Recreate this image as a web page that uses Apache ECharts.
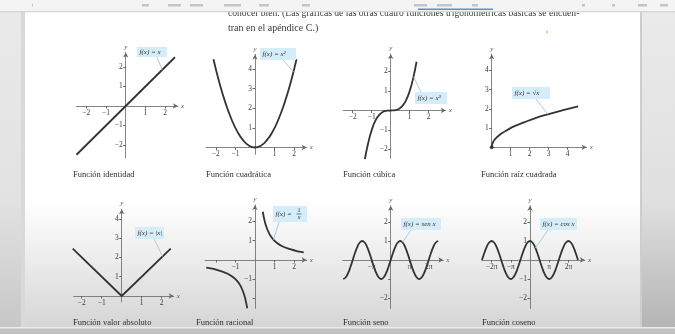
<!DOCTYPE html>
<html>
<head>
<meta charset="utf-8">
<script src="https://cdn.jsdelivr.net/npm/echarts@6/dist/echarts.min.js"></script>
<style>
  html, body { margin: 0; padding: 0; background: #fff; }
  #main { width: 675px; height: 334px; }
</style>
</head>
<body>
<div id="main"></div>
<script>
// ---- datos ----
const identX = [-2.5, 2.5];
const identY = [-2.5, 2.5];

const quadX = [-2.12, -1.8, -1.5, -1.2, -0.9, -0.6, -0.3, 0, 0.3, 0.6, 0.9, 1.2, 1.5, 1.8, 2.12];
const quadY = [4.5, 3.24, 2.25, 1.44, 0.81, 0.36, 0.09, 0, 0.09, 0.36, 0.81, 1.44, 2.25, 3.24, 4.5];

const cubicX = [-1.36, -1.2, -1, -0.8, -0.6, -0.4, -0.2, 0, 0.2, 0.4, 0.6, 0.8, 1, 1.2, 1.36];
const cubicY = [-2.5, -1.73, -1, -0.51, -0.22, -0.06, -0.01, 0, 0.01, 0.06, 0.22, 0.51, 1, 1.73, 2.5];

const sqrtX = [0, 0.03, 0.1, 0.2, 0.35, 0.55, 0.8, 1.2, 1.7, 2.3, 3, 3.7, 4.55];
const sqrtY = [0, 0.17, 0.32, 0.45, 0.59, 0.74, 0.89, 1.1, 1.3, 1.52, 1.73, 1.92, 2.13];

const absX = [-2.45, 0, 2.45];
const absY = [2.45, 0, 2.45];

const ratPosX = [0.4, 0.5, 0.6, 0.75, 0.9, 1.1, 1.4, 1.8, 2.2, 2.5];
const ratPosY = [2.5, 2, 1.67, 1.33, 1.11, 0.91, 0.71, 0.56, 0.45, 0.4];
const ratNegX = [-2.5, -2.2, -1.8, -1.4, -1.1, -0.9, -0.75, -0.6, -0.5, -0.4];
const ratNegY = [-0.4, -0.45, -0.56, -0.71, -0.91, -1.11, -1.33, -1.67, -2, -2.5];

// x en unidades de pi
const trigX = [-2.5, -2.375, -2.25, -2.125, -2, -1.875, -1.75, -1.625, -1.5, -1.375, -1.25, -1.125, -1,
  -0.875, -0.75, -0.625, -0.5, -0.375, -0.25, -0.125, 0, 0.125, 0.25, 0.375, 0.5, 0.625, 0.75, 0.875, 1,
  1.125, 1.25, 1.375, 1.5, 1.625, 1.75, 1.875, 2, 2.125, 2.25, 2.375, 2.5];
const sinY = [-1, -0.92, -0.71, -0.38, 0, 0.38, 0.71, 0.92, 1, 0.92, 0.71, 0.38, 0,
  -0.38, -0.71, -0.92, -1, -0.92, -0.71, -0.38, 0, 0.38, 0.71, 0.92, 1, 0.92, 0.71, 0.38, 0,
  -0.38, -0.71, -0.92, -1, -0.92, -0.71, -0.38, 0, 0.38, 0.71, 0.92, 1];
const cosY = [0, 0.38, 0.71, 0.92, 1, 0.92, 0.71, 0.38, 0, -0.38, -0.71, -0.92, -1,
  -0.92, -0.71, -0.38, 0, 0.38, 0.71, 0.92, 1, 0.92, 0.71, 0.38, 0, -0.38, -0.71, -0.92, -1,
  -0.92, -0.71, -0.38, 0, 0.38, 0.71, 0.92, 1, 0.92, 0.71, 0.38, 0];

// marcas y etiquetas de los ejes
const ticks4 = [-2, -1, 1, 2];
const pos4 = [1, 2, 3, 4];
const identXLabels = ['−2', '−1', '1', '2'];
const identYLabels = ['−2', '−1', '1', '2'];
const quadXLabels = ['−2', '−1', '1', '2'];
const quadYLabels = ['1', '2', '3', '4'];
const cubicXLabels = ['−2', '−1', '1', '2'];
const cubicYLabels = ['−2', '−1', '1', '2'];
const sqrtXLabels = ['1', '2', '3', '4'];
const sqrtYLabels = ['1', '2', '3', '4'];
const absXLabels = ['−2', '−1', '1', '2'];
const absYLabels = ['1', '2', '3', '4'];
const ratXLabels = ['', '−1', '1', '2'];
const ratYLabels = ['', '−1', '1', '2'];
const sinXLabels = ['', '−π', 'π', '2π'];
const sinYLabels = ['−2', '', '1', '2'];
const cosXLabels = ['−2π', '−π', 'π', '2π'];
const cosYLabels = ['−2', '−1', '1', '2'];

const captions = ['Función identidad', 'Función cuadrática', 'Función cúbica', 'Función raíz cuadrada',
  'Función valor absoluto', 'Función racional', 'Función seno', 'Función coseno'];

// ---- maquetacion (origen en px, px por unidad, rangos) ----
const plots = [
  { ox: 125.7, oy: 106, ux: 19.7, uy: 19.5, xr: [-2.5, 2.65], yr: [-2.65, 2.75], xt: ticks4, xl: identXLabels, yt: ticks4, yl: identYLabels },
  { ox: 255, oy: 147.5, ux: 19.6, uy: 19.6, xr: [-2.5, 2.64], yr: [-0.35, 4.75], xt: ticks4, xl: quadXLabels, yt: pos4, yl: quadYLabels },
  { ox: 390.7, oy: 110.5, ux: 19, uy: 19.5, xr: [-2.5, 2.9], yr: [-2.45, 2.9], xt: ticks4, xl: cubicXLabels, yt: ticks4, yl: cubicYLabels },
  { ox: 491.7, oy: 147.3, ux: 19, uy: 19.2, xr: [0, 5], yr: [0, 4.85], xt: pos4, xl: sqrtXLabels, yt: pos4, yl: sqrtYLabels },
  { ox: 121.7, oy: 296, ux: 20, uy: 19.3, xr: [-2.4, 2.6], yr: [-0.3, 4.5], xt: ticks4, xl: absXLabels, yt: pos4, yl: absYLabels },
  { ox: 255, oy: 260, ux: 19.5, uy: 19.3, xr: [-2.56, 2.65], yr: [-2.5, 2.85], xt: ticks4, xl: ratXLabels, yt: ticks4, yl: ratYLabels },
  { ox: 390.7, oy: 260, ux: 19, uy: 19, xr: [-2.53, 2.77], yr: [-2.55, 2.85], xt: ticks4, xl: sinXLabels, yt: ticks4, yl: sinYLabels },
  { ox: 530, oy: 260, ux: 19.2, uy: 19, xr: [-2.52, 2.86], yr: [-2.55, 2.85], xt: ticks4, xl: cosXLabels, yt: ticks4, yl: cosYLabels }
];
const captionPos = [[73, 175], [206, 175], [343, 175], [481, 175], [73, 323], [196, 323], [343, 323], [482, 323]];

const serif = '"Liberation Serif", "DejaVu Serif", serif';
const axisColor = '#666';

function zip(xs, ys) {
  return xs.map((x, i) => [x, ys[i]]);
}

const grids = [], xAxes = [], yAxes = [];
plots.forEach((p, i) => {
  grids.push({
    left: p.ox + p.xr[0] * p.ux,
    top: p.oy - p.yr[1] * p.uy,
    width: (p.xr[1] - p.xr[0]) * p.ux,
    height: (p.yr[1] - p.yr[0]) * p.uy
  });
  const common = {
    type: 'value',
    gridIndex: i,
    splitLine: { show: false },
    axisLine: { onZero: false, symbol: ['none', 'arrow'], symbolSize: [4, 5], lineStyle: { color: axisColor, width: 0.8 } },
    nameTextStyle: { fontFamily: serif, fontStyle: 'italic', fontSize: 7, color: '#555' }
  };
  // el eje se mete dentro de la rejilla hasta el cero del otro eje
  xAxes.push(Object.assign({}, common, {
    min: p.xr[0], max: p.xr[1], name: 'x', nameGap: 3,
    position: 'bottom', offset: p.yr[0] * p.uy,
    axisTick: { customValues: p.xt, length: 2.5, lineStyle: { color: axisColor } },
    axisLabel: {
      customValues: p.xt, margin: 3, fontSize: 7.5, color: '#3a3a3a', fontFamily: serif,
      formatter: (v) => p.xl[p.xt.indexOf(v)] || ''
    }
  }));
  yAxes.push(Object.assign({}, common, {
    min: p.yr[0], max: p.yr[1], name: 'y', nameGap: 2,
    position: 'left', offset: p.xr[0] * p.ux,
    axisTick: { customValues: p.yt, length: 2.5, lineStyle: { color: axisColor } },
    axisLabel: {
      customValues: p.yt, margin: 3, fontSize: 7.5, color: '#3a3a3a', fontFamily: serif,
      formatter: (v) => p.yl[p.yt.indexOf(v)] || ''
    }
  }));
});

function curve(i, data, smooth) {
  return {
    type: 'line', xAxisIndex: i, yAxisIndex: i, data: data,
    showSymbol: false, smooth: smooth, silent: true,
    lineStyle: { color: '#333', width: 1.8 }
  };
}

const series = [
  curve(0, zip(identX, identY), false),
  curve(1, zip(quadX, quadY), 0.5),
  curve(2, zip(cubicX, cubicY), 0.5),
  curve(3, zip(sqrtX, sqrtY), 0.5),
  {
    type: 'scatter', xAxisIndex: 3, yAxisIndex: 3, data: [[sqrtX[0], sqrtY[0]]],
    symbolSize: 4, itemStyle: { color: '#222' }, silent: true
  },
  curve(4, zip(absX, absY), false),
  curve(5, zip(ratPosX, ratPosY), 0.5),
  curve(5, zip(ratNegX, ratNegY), 0.5),
  curve(6, zip(trigX, sinY), 0.5),
  curve(7, zip(trigX, cosY), 0.5)
];

const chart = echarts.init(document.getElementById('main'), null, { renderer: 'canvas' });
chart.setOption({
  animation: false,
  backgroundColor: '#fff',
  grid: grids, xAxis: xAxes, yAxis: yAxes, series: series
});

// ---- fondo, textos y globos ----
const g = [];
g.push({ type: 'rect', z: -10, shape: { x: 0, y: 0, width: 675, height: 334 },
  style: { fill: new echarts.graphic.LinearGradient(0, 0, 0, 1, [
    { offset: 0, color: '#ffffff' }, { offset: 0.6, color: '#ffffff' },
    { offset: 0.78, color: '#ececec' }, { offset: 1, color: '#d3d3d3' }]) } });
g.push({ type: 'rect', z: 50, shape: { x: 0, y: 0, width: 21, height: 334 },
  style: { fill: new echarts.graphic.LinearGradient(0, 0, 0, 1, [
    { offset: 0, color: '#eaeaea' }, { offset: 0.6, color: '#e2e2e2' }, { offset: 1, color: '#c6c6c6' }]) } });
g.push({ type: 'rect', z: 50, shape: { x: 21, y: 0, width: 4, height: 334 }, style: { fill: '#d9d9d9' } });
g.push({ type: 'rect', z: 50, shape: { x: 641, y: 0, width: 34, height: 334 },
  style: { fill: new echarts.graphic.LinearGradient(0, 0, 0, 1, [
    { offset: 0, color: '#ebebeb' }, { offset: 0.6, color: '#e0e0e0' }, { offset: 1, color: '#b2b2b2' }]) } });
g.push({ type: 'rect', z: 51, shape: { x: 640, y: 0, width: 2, height: 334 }, style: { fill: '#cdcdcd' } });
g.push({ type: 'rect', z: 52, shape: { x: 0, y: 327, width: 675, height: 7 }, style: { fill: '#c2c2c2' } });
g.push({ type: 'rect', z: 53, shape: { x: 0, y: 327, width: 675, height: 1.5 }, style: { fill: '#ebebeb' } });

// texto del libro arriba
g.push({ type: 'text', z: 5, x: 228, y: 13.5, style: { text: 'conocer bien. (Las gráficas de las otras cuatro funciones trigonométricas básicas se encuen-',
  fontFamily: serif, fontSize: 9.6, fill: '#3a3a3a', verticalAlign: 'middle' } });
g.push({ type: 'text', z: 5, x: 228, y: 28, style: { text: 'tran en el apéndice C.)',
  fontFamily: serif, fontSize: 10, fill: '#3a3a3a', verticalAlign: 'middle' } });
g.push({ type: 'circle', z: 5, shape: { cx: 547, cy: 32, r: 0.9 }, style: { fill: '#e0a060' } });

// barra superior del visor
g.push({ type: 'rect', z: 60, shape: { x: 0, y: 0, width: 675, height: 11 }, style: { fill: '#f4f4f4' } });
g.push({ type: 'rect', z: 61, shape: { x: 0, y: 11, width: 675, height: 1.2 }, style: { fill: '#d4d4d4' } });
g.push({ type: 'rect', z: 62, shape: { x: 418, y: 8.5, width: 75, height: 1.6 }, style: { fill: '#5b8fd0' } });
[[32, 1], [142, 7], [168, 13], [190, 13], [224, 17], [259, 10], [302, 8], [414, 13], [437, 15], [472, 6], [582, 3], [612, 3], [638, 9], [660, 8]]
  .forEach(([x, w]) => {
    g.push({ type: 'rect', z: 62, shape: { x: x, y: 4, width: w, height: 2.5 }, style: { fill: '#a5a5a5', opacity: 0.6 } });
  });

captions.forEach((c, i) => {
  g.push({ type: 'text', z: 5, x: captionPos[i][0], y: captionPos[i][1],
    style: { text: c, fontFamily: serif, fontSize: 8.5, fill: '#2e2e2e', verticalAlign: 'middle' } });
});

// globos: caja en px, punta sobre la curva en coordenadas de datos
const callouts = [
  { i: 0, text: 'f(x) = x', box: [137, 47, 30, 10], from: [157, 57], to: [1.85, 1.85] },
  { i: 1, text: 'f(x) = x²', box: [260, 48, 36, 12], from: [283, 60], to: [1.97, 3.85] },
  { i: 2, text: 'f(x) = x³', box: [415, 92, 32, 12], from: [421, 92], to: [1.2, 1.73] },
  { i: 3, text: 'f(x) = √x', box: [512, 87, 38, 12], from: [536, 99], to: [2.95, 1.72] },
  { i: 4, text: 'f(x) = |x|', box: [135, 227, 29, 12], from: [154, 239], to: [2.05, 2.05] },
  { i: 5, text: 'f(x) =', frac: true, box: [273, 206, 34, 16], from: [279, 222], to: [0.95, 1.05] },
  { i: 6, text: 'f(x) = sen x', box: [401, 218, 40, 12], from: [411, 230], to: [0.62, 0.93] },
  { i: 7, text: 'f(x) = cos x', box: [540, 218, 37, 12], from: [548, 230], to: [0.28, 0.63] }
];
const boxFill = '#d5ecf9';
callouts.forEach((c) => {
  const tip = chart.convertToPixel({ gridIndex: c.i }, c.to);
  g.push({ type: 'line', z: 20, shape: { x1: c.from[0], y1: c.from[1], x2: tip[0], y2: tip[1] },
    style: { stroke: '#9fc6de', lineWidth: 0.9 } });
  g.push({ type: 'rect', z: 21, shape: { x: c.box[0], y: c.box[1], width: c.box[2], height: c.box[3] },
    style: { fill: boxFill } });
  const cy = c.box[1] + c.box[3] / 2;
  g.push({ type: 'text', z: 22, x: c.box[0] + 2.5, y: cy,
    style: { text: c.text, fontFamily: serif, fontStyle: 'italic', fontSize: 7, fill: '#333', verticalAlign: 'middle' } });
  if (c.frac) {
    const fx = c.box[0] + 26;
    g.push({ type: 'text', z: 22, x: fx, y: cy - 3.5, style: { text: '1', fontFamily: serif, fontSize: 6, fill: '#333', align: 'center', verticalAlign: 'middle' } });
    g.push({ type: 'line', z: 22, shape: { x1: fx - 2.5, y1: cy, x2: fx + 2.5, y2: cy }, style: { stroke: '#333', lineWidth: 0.6 } });
    g.push({ type: 'text', z: 22, x: fx, y: cy + 3.8, style: { text: 'x', fontFamily: serif, fontStyle: 'italic', fontSize: 6, fill: '#333', align: 'center', verticalAlign: 'middle' } });
  }
});

chart.setOption({ graphic: { elements: g } });
</script>
</body>
</html>
